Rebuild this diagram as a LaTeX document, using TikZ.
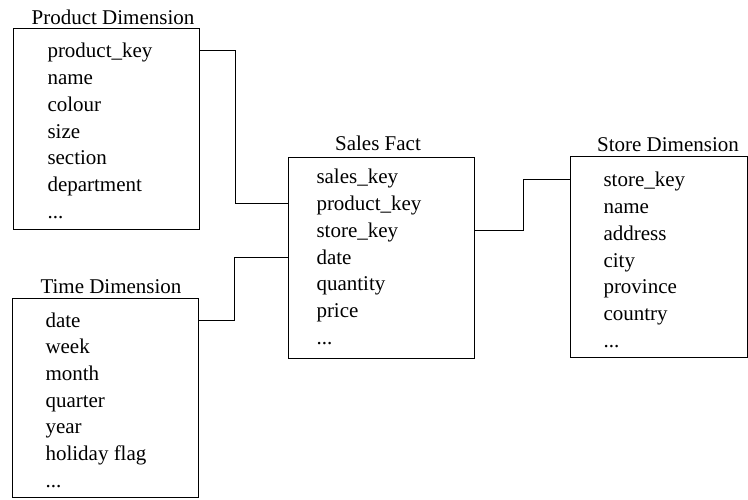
\documentclass[tikz,border=0pt]{standalone}
\usepackage{fontspec}
\setmainfont{Liberation Serif}
\usepackage{tikz}

\begin{document}
\begin{tikzpicture}[x=1pt,y=1pt,line width=1pt,
  every node/.style={font=\fontsize{21}{25}\selectfont},
  tablebox/.style={draw,anchor=north west,minimum width=186pt,minimum height=200pt,inner sep=0pt,outer sep=0pt},
  tabletitle/.style={inner sep=0pt},
  fieldtext/.style={anchor=base west,inner sep=0pt,text height=15pt,text depth=1pt}]

\useasboundingbox (0,0) rectangle (748,-500);

%%%%%% Product dimension
\node [tablebox, minimum height=201pt] (prod) at (13,-29) {}; \node [tabletitle] (prodtitle) at (113,-17) {Product Dimension};

\node [fieldtext] (pkey) at (47,-58) {product\_key}; \node [fieldtext] (pname) at (47,-84.7) {name}; \node [fieldtext] (pcolour) at (47,-111.4) {colour}; \node [fieldtext] (psize) at (47,-138.1) {size};
\node [fieldtext] (psection) at (47,-164.8) {section}; \node [fieldtext] (pdept) at (47,-191.5) {department}; \node [fieldtext] (pmore) at (47,-218.2) {...};


%%%%%% Time dimension
\node [tablebox, minimum height=199pt] (time) at (12,-298) {}; \node [tabletitle] (timetitle) at (111,-287) {Time Dimension};

\node [fieldtext] (tdate) at (45,-327) {date}; \node [fieldtext] (tweek) at (45,-353.7) {week}; \node [fieldtext] (tmonth) at (45,-380.4) {month}; \node [fieldtext] (tquarter) at (45,-407.1) {quarter};
\node [fieldtext] (tyear) at (45,-433.8) {year}; \node [fieldtext] (tholiday) at (45,-460.5) {holiday flag}; \node [fieldtext] (tmore) at (45,-487.2) {...};


%%%%%% Sales fact
\node [tablebox] (sales) at (288,-158) {}; \node [tabletitle] (salestitle) at (378,-143) {Sales Fact};

\node [fieldtext] (skey) at (316,-184) {sales\_key}; \node [fieldtext] (spkey) at (316,-210.7) {product\_key}; \node [fieldtext] (sskey) at (316,-237.4) {store\_key}; \node [fieldtext] (sdate) at (316,-264.1) {date};
\node [fieldtext] (squantity) at (316,-290.8) {quantity}; \node [fieldtext] (sprice) at (316,-317.5) {price}; \node [fieldtext] (smore) at (316,-344.2) {...};


%%%%%% Store dimension
\node [tablebox, minimum width=177pt] (store) at (570,-157) {}; \node [tabletitle] (storetitle) at (668,-145) {Store Dimension};

\node [fieldtext] (stkey) at (603,-187) {store\_key}; \node [fieldtext] (stname) at (603,-213.7) {name}; \node [fieldtext] (staddress) at (603,-240.4) {address}; \node [fieldtext] (stcity) at (603,-267.1) {city};
\node [fieldtext] (stprovince) at (603,-293.8) {province}; \node [fieldtext] (stcountry) at (603,-320.5) {country}; \node [fieldtext] (stmore) at (603,-347.2) {...};


%%%%%% Connections
\draw (prod.east |- pkey) -- ++(36,0) |- (sales.west |- spkey);
\draw (time.east |- tdate) -- ++(36,0) |- (sales.west |- sdate);
\draw (sales.east |- sskey) -- ++(49,0) |- (store.west |- stkey);

\end{tikzpicture}
\end{document}
